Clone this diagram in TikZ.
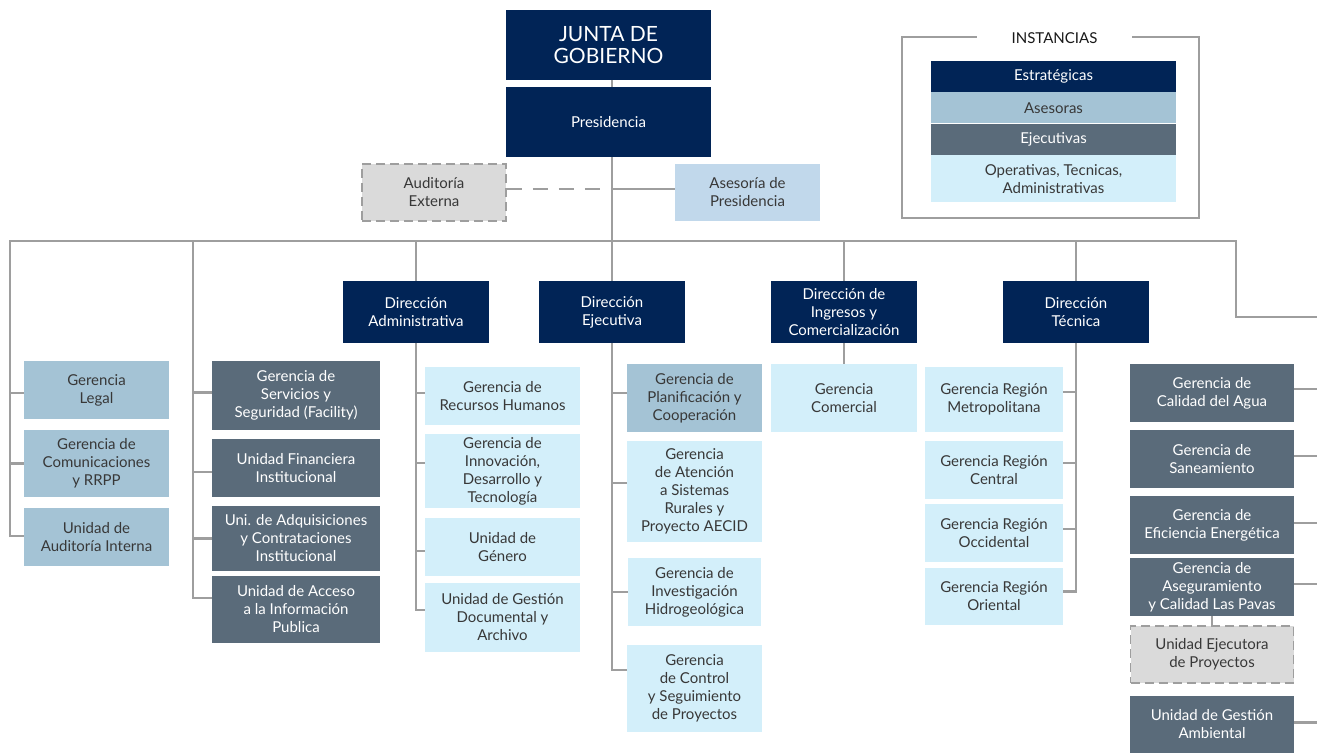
\documentclass[tikz,border=0pt]{standalone}
\usepackage{fontspec}
\setmainfont{Lato}
\usetikzlibrary{positioning}
\definecolor{navy}{HTML}{012456}
\definecolor{asblue}{HTML}{A4C3D5}
\definecolor{slate}{HTML}{5A6B7A}
\definecolor{cyanlt}{HTML}{D3EFFA}
\definecolor{presblue}{HTML}{C1D8EB}
\definecolor{extgray}{HTML}{DADADA}
\definecolor{lineg}{HTML}{9E9E9E}
\definecolor{txt}{HTML}{383838}
\begin{document}
\begin{tikzpicture}[x=1pt,y=-1pt,
  org/.style={inner sep=0pt,align=center,font=\fontsize{15}{18}\selectfont},
  sz/.style 2 args={minimum width=#1,minimum height=#2},
  estr/.style={org,fill=navy,text=white},
  aseso/.style={org,fill=asblue,text=txt},
  ejec/.style={org,fill=slate,text=white},
  oper/.style={org,fill=cyanlt,text=txt},
  extbox/.style={org,fill=extgray,text=txt,draw=lineg,line width=1.5pt,dash pattern=on 9pt off 5pt},
  lnk/.style={draw=lineg,line width=2.8pt}]
  \useasboundingbox (0,0) rectangle (1317,753);
  \clip (0,0) rectangle (1317,753);

  % top
  \node[estr,sz={205}{70},font=\fontsize{21}{22}\selectfont] (junta) at (608.5,45) {JUNTA DE\\GOBIERNO};
  \node[estr,sz={205}{70}] (pres) at (608.5,122) {Presidencia};
  \node[extbox,sz={144}{57}] (audext) at (434,192.5) {Auditoría\\Externa};
  \node[org,fill=presblue,text=txt,sz={145}{57}] (asepres) at (747.5,192.5) {Asesoría de\\Presidencia};

  % legend
  \node[draw=lineg,line width=2.8pt,sz={297}{181}] (leg) at (1050.5,127.5) {};
  \node[org,fill=white,text=black!90,sz={155}{14}] (legT) at (1054.5,38) {INSTANCIAS};
  \node[estr,sz={245}{31}] (legE) at (1053.5,76.5) {Estratégicas};
  \node[aseso,sz={245}{31},below=0pt of legE] (legA) {Asesoras};
  \node[ejec,sz={245}{31},below=0pt of legA] (legX) {Ejecutivas};
  \node[oper,sz={245}{47},below=0pt of legX] (legO) {Operativas, Tecnicas,\\Administrativas};

  % direcciones
  \node[estr,sz={146}{62}] (dadm) at (416,312) {Dirección\\Administrativa};
  \node[estr,sz={146}{62}] (dejec) at (612,312) {Dirección\\Ejecutiva};
  \node[estr,sz={146}{62}] (ding) at (844,312) {Dirección de\\Ingresos y\\Comercialización};
  \node[estr,sz={146}{62}] (dtec) at (1076,312) {Dirección\\Técnica};

  % left columns
  \node[aseso,sz={145}{58}] (legal) at (96.5,390) {Gerencia\\Legal};
  \node[aseso,sz={145}{67}] (comun) at (96.5,463.5) {Gerencia de\\Comunicaciones\\y RRPP};
  \node[aseso,sz={145}{58}] (audint) at (96.5,537) {Unidad de\\Auditoría Interna};
  \node[ejec,sz={168}{69}] (serv) at (296,395.5) {Gerencia de\\Servicios y\\Seguridad (Facility)};
  \node[ejec,sz={168}{58}] (finan) at (296,468) {Unidad Financiera\\Institucional};
  \node[ejec,sz={168}{65}] (adq) at (296,538.5) {Uni. de Adquisiciones\\y Contrataciones\\Institucional};
  \node[ejec,sz={168}{67}] (acceso) at (296,609.5) {Unidad de Acceso\\a la Información\\Publica};

  % administrativa
  \node[oper,sz={155}{58}] (rrhh) at (502.5,396) {Gerencia de\\Recursos Humanos};
  \node[oper,sz={155}{74}] (innov) at (502.5,471) {Gerencia de\\Innovación,\\Desarrollo y\\Tecnología};
  \node[oper,sz={155}{58}] (genero) at (502.5,547) {Unidad de\\Género};
  \node[oper,sz={155}{69}] (gdoc) at (502.5,617.5) {Unidad de Gestión\\Documental y\\Archivo};

  % ejecutiva
  \node[aseso,sz={135}{68}] (planif) at (694.5,398) {Gerencia de\\Planificación y\\Cooperación};
  \node[oper,sz={135}{101}] (rural) at (694.5,491.5) {Gerencia\\de Atención\\a Sistemas\\Rurales y\\Proyecto AECID};
  \node[oper,sz={133}{68}] (hidro) at (694.5,592) {Gerencia de\\Investigación\\Hidrogeológica};
  \node[oper,sz={135}{87}] (control) at (694.5,688.5) {Gerencia\\de Control\\y Seguimiento\\de Proyectos};

  % ingresos y tecnica
  \node[oper,sz={146}{68}] (comerc) at (844,398) {Gerencia\\Comercial};
  \node[oper,sz={138}{65}] (metro) at (994,399.5) {Gerencia Región\\Metropolitana};
  \node[oper,sz={138}{58}] (central) at (994,470) {Gerencia Región\\Central};
  \node[oper,sz={138}{58}] (occid) at (994,533) {Gerencia Región\\Occidental};
  \node[oper,sz={138}{57}] (orient) at (994,596.5) {Gerencia Región\\Oriental};

  % right column
  \node[ejec,sz={164}{58}] (agua) at (1212,393) {Gerencia de\\Calidad del Agua};
  \node[ejec,sz={164}{58}] (sanea) at (1212,459) {Gerencia de\\Saneamiento};
  \node[ejec,sz={164}{58}] (efic) at (1212,525) {Gerencia de\\Eficiencia Energética};
  \node[ejec,sz={164}{58}] (asegur) at (1212,587) {Gerencia de\\Aseguramiento\\y Calidad Las Pavas};
  \node[extbox,sz={163}{57}] (uejec) at (1212,654.5) {Unidad Ejecutora\\de Proyectos};
  \node[ejec,sz={164}{57}] (ambient) at (1212,724.5) {Unidad de Gestión\\Ambiental};

  % connectors
  \coordinate (busL) at (10,241);
  \coordinate (busR) at (1236,241);
  \coordinate (colB) at (193,241);
  \coordinate (rhook) at (1236,317);
  \coordinate (rbus) at (1340,317);

  \draw[lnk] (junta.south -| dejec.north) -- (pres.north -| dejec.north);
  \draw[lnk] (pres.south -| dejec.north) -- (dejec.north);
  \draw[lnk,dash pattern=on 15pt off 11pt] ([yshift=3.5pt]audext.east) -- ([yshift=3.5pt]audext.east -| dejec.north);
  \draw[lnk] ([yshift=3.5pt]asepres.west) -- ([yshift=3.5pt]asepres.west -| dejec.north);
  \draw[lnk] (busL |- audint.west) -- (busL) -- (busR) -- (rhook) -- (rbus);
  \foreach \n/\dy in {legal/-3,comun/0,audint/1}
    \draw[lnk] ([yshift=\dy pt]\n.west) -| (busL);
  \foreach \n/\dy in {serv/3,finan/-4,adq/0,acceso/11.5}
    \draw[lnk] ([yshift=\dy pt]\n.west) -| (colB);
  \draw[lnk] (dadm.north |- busL) -- (dadm.north);
  \foreach \n/\dy in {rrhh/3,innov/8,genero/-4,gdoc/7.5}
    \draw[lnk] ([yshift=\dy pt]\n.west) -| (dadm.south);
  \foreach \n/\dy in {planif/5,rural/8.5,hidro/0,control/18.5}
    \draw[lnk] ([yshift=\dy pt]\n.west) -| (dejec.south);
  \draw[lnk] (ding.north |- busL) -- (ding.north);
  \draw[lnk] (ding.south) -- (comerc.north);
  \draw[lnk] (dtec.north |- busL) -- (dtec.north);
  \foreach \n/\dy in {metro/7.5,central/7,occid/4,orient/5}
    \draw[lnk] ([yshift=\dy pt]\n.east) -| (dtec.south);
  \foreach \n/\dy in {agua/4,sanea/3,efic/2,asegur/3,ambient/2}
    \draw[lnk] ([yshift=\dy pt]\n.east) -- ([yshift=\dy pt]\n.east -| rbus);
  \draw[lnk] (asegur.south) -- (uejec.north);
\end{tikzpicture}
\end{document}
